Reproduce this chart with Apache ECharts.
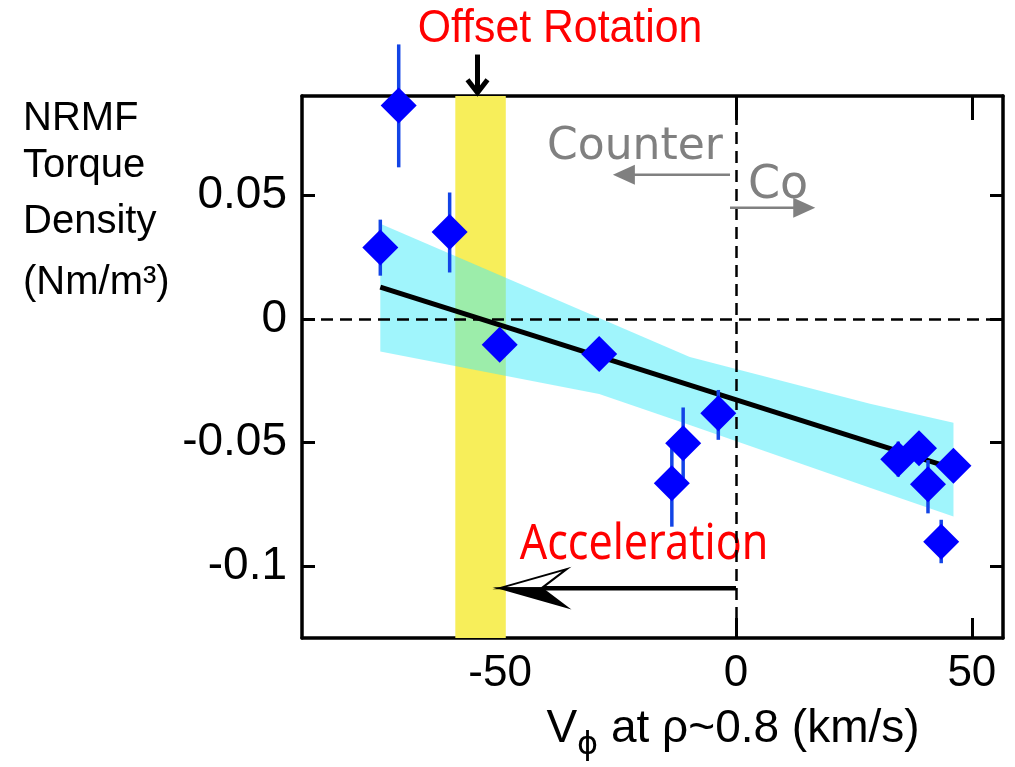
<!DOCTYPE html>
<html>
<head>
<meta charset="utf-8">
<script src="https://cdn.jsdelivr.net/npm/echarts@6/dist/echarts.min.js"></script>
<style>
  html, body { margin: 0; padding: 0; background: #ffffff; }
  #chart { width: 1015px; height: 767px; }
</style>
</head>
<body>
<div id="chart"></div>
<script>
// Toroidal rotation velocity (km/s) and NRMF torque density (Nm/m^3)
const vPhi    = [-75.4, -71.5, -60.7, -50.1, -29.0, -13.6, -11.2, -3.75, 34.4, 38.8, 40.7, 43.5, 46.1];
const torque  = [0.0290, 0.0866, 0.0353, -0.0104, -0.0141, -0.0665, -0.0503, -0.0381, -0.0568, -0.0523, -0.0669, -0.0902, -0.0594];
const errLow  = [0.0176, 0.0615, 0.0189, -0.0134, -0.0171, -0.0841, -0.0644, -0.0489, -0.0638, -0.0553, -0.0787, -0.0989, -0.0624];
const errHigh = [0.0403, 0.1113, 0.0513, -0.0074, -0.0111, -0.0517, -0.0358, -0.0287, -0.0496, -0.0493, -0.0571, -0.0813, -0.0564];

// Linear fit and its confidence band
const fitX = [-75.4, 46.1];
const fitY = [0.0130, -0.0606];
const bandX     = [-75.4, -29.0, -9.8, 28.4, 46.1];
const bandUpper = [0.0386, 0.0005, -0.0153, -0.0343, -0.0420];
const bandLower = [-0.0131, -0.0303, -0.0429, -0.0683, -0.0800];

// Offset rotation range (km/s)
const offsetRange = [-59.5, -48.8];

// Axis ticks
const xTicks = [-50, 0, 50];
const yTicks = [-0.1, -0.05, 0, 0.05];

const chart = echarts.init(document.getElementById('chart'), null, { renderer: 'canvas' });

const FONT = 'Liberation Sans, Arial, sans-serif';
const axisCommon = {
  type: 'value',
  axisLine: { show: true, onZero: false, lineStyle: { color: '#000', width: 3.5 } },
  splitLine: { show: false }
};

function fmtY(v) {
  if (Math.abs(v) < 1e-9) return '0';
  return String(Math.round(v * 100) / 100);
}

const polygonPts = bandX.map((x, i) => [x, bandUpper[i]])
  .concat(bandX.map((x, i) => [x, bandLower[i]]).reverse());

const option = {
  backgroundColor: '#ffffff',
  animation: false,
  grid: { left: 302, right: 12, top: 96, bottom: 129 },
  xAxis: [
    Object.assign({}, axisCommon, {
      position: 'bottom', min: -92, max: 56.6,
      axisTick: { show: true, inside: true, length: 20, lineStyle: { color: '#000', width: 3 }, customValues: xTicks },
      axisLabel: { show: true, customValues: xTicks, fontSize: 44, fontFamily: FONT, color: '#000', margin: 14 }
    }),
    Object.assign({}, axisCommon, {
      position: 'top', min: -92, max: 56.6,
      axisTick: { show: true, inside: true, length: 24, lineStyle: { color: '#000', width: 3 }, customValues: xTicks },
      axisLabel: { show: false }
    })
  ],
  yAxis: [
    Object.assign({}, axisCommon, {
      position: 'left', min: -0.1292, max: 0.0904,
      axisTick: { show: true, inside: true, length: 13, lineStyle: { color: '#000', width: 3 }, customValues: yTicks },
      axisLabel: { show: true, customValues: yTicks, formatter: fmtY, fontSize: 46, fontFamily: FONT, color: '#000', margin: 15 }
    }),
    Object.assign({}, axisCommon, {
      position: 'right', min: -0.1292, max: 0.0904,
      axisTick: { show: true, inside: true, length: 13, lineStyle: { color: '#000', width: 3 }, customValues: yTicks },
      axisLabel: { show: false }
    })
  ],
  series: [
    // offset rotation range
    {
      type: 'line', data: [], z: 1,
      markArea: {
        silent: true,
        itemStyle: { color: '#f7ee5a' },
        data: [[{ xAxis: offsetRange[0] }, { xAxis: offsetRange[1] }]]
      }
    },
    // confidence band of the fit
    {
      type: 'custom', z: 2,
      data: [0],
      renderItem: function (params, api) {
        const pts = polygonPts.map(p => api.coord(p));
        return { type: 'polygon', shape: { points: pts }, style: { fill: 'rgba(65,235,249,0.5)' } };
      }
    },
    // zero reference lines
    {
      type: 'line', data: [], z: 3,
      markLine: {
        silent: true, symbol: 'none', label: { show: false },
        lineStyle: { color: '#000', type: [12, 7], width: 2.5 },
        data: [{ xAxis: 0 }, { yAxis: 0 }]
      }
    },
    // linear fit
    {
      type: 'line', z: 4, symbol: 'none',
      lineStyle: { color: '#000', width: 5 },
      data: fitX.map((x, i) => [x, fitY[i]])
    },
    // error bars
    {
      type: 'custom', z: 5,
      data: vPhi.map((x, i) => [x, errLow[i], errHigh[i]]),
      renderItem: function (params, api) {
        const a = api.coord([api.value(0), api.value(1)]);
        const b = api.coord([api.value(0), api.value(2)]);
        return { type: 'line', shape: { x1: a[0], y1: a[1], x2: b[0], y2: b[1] },
                 style: { stroke: '#1244e6', lineWidth: 3.5 } };
      }
    },
    // measurements
    {
      type: 'scatter', z: 6, symbol: 'diamond', symbolSize: 36,
      itemStyle: { color: '#0000ff', opacity: 1 },
      data: vPhi.map((x, i) => [x, torque[i]])
    },
    // annotation arrows
    {
      type: 'custom', z: 7, clip: false, silent: true,
      data: [0],
      renderItem: function (params, api) {
        const kids = [];
        // Offset rotation marker (above the frame)
        const o1 = api.coord([-54.8, 0.1072]);
        const o2 = api.coord([-54.8, 0.0909]);
        kids.push({ type: 'line', shape: { x1: o1[0], y1: o1[1], x2: o2[0], y2: o2[1] - 2 }, style: { stroke: '#000', lineWidth: 5 } });
        kids.push({ type: 'polyline', shape: { points: [[o2[0] - 10, o2[1] - 15], [o2[0], o2[1] - 2], [o2[0] + 10, o2[1] - 15]] },
                    style: { stroke: '#000', lineWidth: 5, fill: null } });
        // Counter / Co direction arrows
        const gray = '#808080';
        const c1 = api.coord([-1.27, 0.0585]);
        const c2 = api.coord([-26.1, 0.0585]);
        kids.push({ type: 'line', shape: { x1: c1[0], y1: c1[1], x2: c2[0] + 18, y2: c2[1] }, style: { stroke: gray, lineWidth: 2.5 } });
        kids.push({ type: 'polygon', shape: { points: [[c2[0], c2[1]], [c2[0] + 22, c2[1] - 10], [c2[0] + 22, c2[1] + 10]] }, style: { fill: gray } });
        const k1 = api.coord([-1.27, 0.0451]);
        const k2 = api.coord([16.8, 0.0451]);
        kids.push({ type: 'line', shape: { x1: k1[0], y1: k1[1], x2: k2[0] - 18, y2: k2[1] }, style: { stroke: gray, lineWidth: 2.5 } });
        kids.push({ type: 'polygon', shape: { points: [[k2[0], k2[1]], [k2[0] - 22, k2[1] - 10], [k2[0] - 22, k2[1] + 10]] }, style: { fill: gray } });
        // Acceleration arrow
        const a1 = api.coord([0, -0.109]);
        const a2 = api.coord([-50.1, -0.109]);
        const notch = [a2[0] + 42, a2[1]];
        kids.push({ type: 'line', shape: { x1: a1[0], y1: a1[1], x2: notch[0], y2: notch[1] }, style: { stroke: '#000', lineWidth: 4.5 } });
        kids.push({ type: 'polygon', shape: { points: [[a2[0], a2[1]], [a2[0] + 67, a2[1] - 19], notch] },
                    style: { fill: '#fff', stroke: '#000', lineWidth: 2 } });
        kids.push({ type: 'polygon', shape: { points: [[a2[0], a2[1]], [a2[0] + 67, a2[1] + 19], notch] },
                    style: { fill: '#000', stroke: '#000', lineWidth: 2 } });
        return { type: 'group', children: kids };
      }
    }
  ],
  graphic: [
    { type: 'text', x: 23, y: 119, style: { text: 'NRMF', font: '40px ' + FONT, fill: '#000', textVerticalAlign: 'middle' } },
    { type: 'text', x: 23, y: 166, style: { text: 'Torque', font: '40px ' + FONT, fill: '#000', textVerticalAlign: 'middle' } },
    { type: 'text', x: 23, y: 222, style: { text: 'Density', font: '40px ' + FONT, fill: '#000', textVerticalAlign: 'middle' } },
    { type: 'text', x: 23, y: 283, style: { text: '(Nm/m³)', font: '40px ' + FONT, fill: '#000', textVerticalAlign: 'middle' } },
    { type: 'text', x: 560, y: 29, scaleX: 0.93, style: { text: 'Offset Rotation', font: '46px ' + FONT, fill: '#ff0000', textAlign: 'center', textVerticalAlign: 'middle' } },
    { type: 'text', x: 644, y: 545, scaleX: 0.86, style: { text: 'Acceleration', font: '50px Noto Sans, sans-serif', fill: '#ff0000', textAlign: 'center', textVerticalAlign: 'middle' } },
    { type: 'text', x: 547, y: 148, style: { text: 'Counter', font: '44px DejaVu Sans, sans-serif', fill: '#808080', textVerticalAlign: 'middle' } },
    { type: 'text', x: 748, y: 186, style: { text: 'Co', font: '46px DejaVu Sans, sans-serif', fill: '#808080', textVerticalAlign: 'middle' } },
    {
      type: 'text', x: 733, y: 729,
      style: {
        text: '{m|V}{s|ϕ}{m| at ρ~0.8 (km/s)}',
        textAlign: 'center', textVerticalAlign: 'middle',
        rich: {
          m: { font: '46px ' + FONT, fill: '#000', verticalAlign: 'bottom' },
          s: { font: '32px DejaVu Sans, sans-serif', fill: '#000', verticalAlign: 'bottom', padding: [0, 0, -10, 0] }
        }
      }
    }
  ]
};

chart.setOption(option);
</script>
</body>
</html>
